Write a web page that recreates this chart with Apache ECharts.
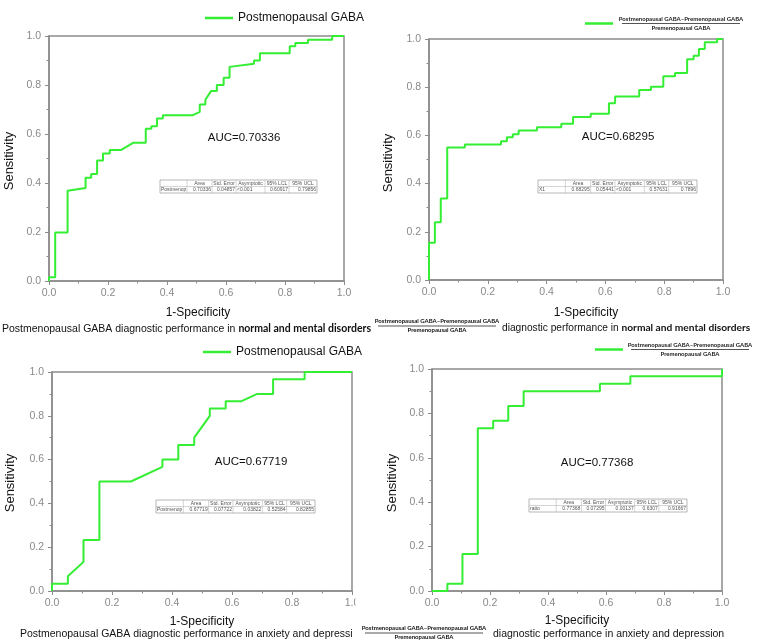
<!DOCTYPE html>
<html><head><meta charset="utf-8">
<script src="https://cdn.jsdelivr.net/npm/echarts@6/dist/echarts.min.js"></script>
<style>html,body{margin:0;padding:0;background:#fff}#c{width:758px;height:641px}</style>
</head><body><div id="c"></div>
<script>
// ---- data ----
const seriesName1 = 'Postmenopausal GABA';
const fracNum = 'Postmenopausal GABA\u2013Premenopausal GABA';
const fracDen = 'Premenopausal GABA';
const axisTicks = [0, 0.2, 0.4, 0.6, 0.8, 1.0];

const roc1X = [0,0,0.021,0.021,0.063,0.063,0.124,0.124,0.143,0.143,0.163,0.163,0.183,0.183,0.206,0.206,0.245,0.285,0.328,0.328,0.347,0.347,0.366,0.366,0.386,0.386,0.488,0.511,0.511,0.530,0.530,0.550,0.569,0.569,0.592,0.592,0.612,0.612,0.695,0.695,0.715,0.715,0.816,0.816,0.835,0.835,0.878,0.878,0.960,0.960,1.0];
const roc1Y = [0,0.015,0.015,0.198,0.198,0.368,0.380,0.421,0.421,0.437,0.437,0.492,0.492,0.520,0.520,0.535,0.535,0.564,0.564,0.621,0.621,0.632,0.632,0.663,0.663,0.677,0.677,0.690,0.720,0.720,0.740,0.776,0.776,0.800,0.800,0.830,0.830,0.874,0.887,0.900,0.900,0.930,0.930,0.958,0.958,0.971,0.971,0.985,0.985,1.0,1.0];

const roc2X = [0,0,0.020,0.020,0.040,0.040,0.062,0.062,0.122,0.122,0.245,0.245,0.265,0.265,0.285,0.285,0.305,0.305,0.367,0.367,0.450,0.450,0.490,0.490,0.550,0.550,0.612,0.612,0.633,0.633,0.715,0.715,0.755,0.755,0.797,0.797,0.837,0.837,0.878,0.878,0.900,0.900,0.918,0.918,0.938,0.938,0.980,0.980,1.0];
const roc2Y = [0,0.155,0.155,0.240,0.240,0.338,0.338,0.550,0.550,0.562,0.562,0.576,0.576,0.592,0.592,0.605,0.605,0.620,0.620,0.634,0.634,0.648,0.648,0.676,0.676,0.690,0.690,0.733,0.733,0.761,0.761,0.788,0.788,0.802,0.802,0.845,0.845,0.859,0.859,0.916,0.916,0.930,0.930,0.958,0.958,0.986,0.986,1.0,1.0];

const roc3X = [0,0,0.053,0.053,0.105,0.105,0.158,0.158,0.263,0.368,0.368,0.421,0.421,0.474,0.474,0.526,0.526,0.579,0.579,0.632,0.684,0.737,0.737,0.842,0.842,1.0];
const roc3Y = [0,0.033,0.033,0.067,0.133,0.233,0.233,0.500,0.500,0.567,0.600,0.600,0.667,0.667,0.700,0.800,0.833,0.833,0.867,0.867,0.900,0.900,0.967,0.967,1.0,1.0];

const roc4X = [0,0.053,0.053,0.105,0.105,0.158,0.158,0.211,0.211,0.263,0.263,0.316,0.316,0.579,0.579,0.684,0.684,1.0,1.0];
const roc4Y = [0,0,0.033,0.033,0.167,0.167,0.733,0.733,0.767,0.767,0.833,0.833,0.900,0.900,0.933,0.933,0.967,0.967,1.0];

const aucLabels = ['AUC=0.70336', 'AUC=0.68295', 'AUC=0.67719', 'AUC=0.77368'];
const tableHeader = ['', 'Area', 'Std. Error', 'Asymptotic', '95% LCL', '95% UCL'];
const tableRow1 = ['Postmenop', '0.70336', '0.04857', '<0.001', '0.60917', '0.79856'];
const tableRow2 = ['X1', '0.68295', '0.05441', '<0.001', '0.57631', '0.7896'];
const tableRow3 = ['Postmenop', '0.67719', '0.07722', '0.03822', '0.52584', '0.82855'];
const tableRow4 = ['ratio', '0.77368', '0.07295', '0.00137', '0.6307', '0.91667'];
const xAxisName = '1-Specificity';
const yAxisName = 'Sensitivity';
const capMain = 'Postmenopausal GABA diagnostic performance in ';
const capShort = 'diagnostic performance in ';
const capBold1 = 'normal and mental disorders';
const capTail2 = 'anxiety and depressi';
const capTail4 = 'anxiety and depression';

// ---- layout ----
const GREEN = '#33ee33';
const GREY = '#8c8c8c';
const FONT = '"Liberation Sans", Arial, sans-serif';
const grids = [
  {left: 49, top: 36, width: 295, height: 245},
  {left: 429, top: 39, width: 294, height: 241},
  {left: 52, top: 372, width: 300, height: 219},
  {left: 432, top: 369, width: 290, height: 222}
];
const zip = (xs, ys) => xs.map((x, i) => [x, ys[i]]);
const curves = [zip(roc1X, roc1Y), zip(roc2X, roc2Y), zip(roc3X, roc3Y), zip(roc4X, roc4Y)];
const names = [seriesName1, 'X1', seriesName1 + ' ', 'ratio'];

function mkAxis(i, isX) {
  return {
    type: 'value', gridIndex: i, min: axisTicks[0], max: axisTicks[axisTicks.length - 1], interval: 0.2,
    axisLine: {show: true, lineStyle: {color: GREY, width: 1.5}},
    axisTick: {show: true, inside: false, length: 4, lineStyle: {color: GREY, width: 1}},
    minorTick: {show: true, splitNumber: 2, length: 2.5, lineStyle: {color: GREY, width: 1}},
    splitLine: {show: false}, minorSplitLine: {show: false},
    axisLabel: {show: true, color: '#8a8a8a', fontSize: 10.5, fontFamily: FONT, margin: isX ? 7 : 8,
      showMinLabel: true, showMaxLabel: true, formatter: v => v.toFixed(1)}
  };
}

const fracRich = {
  n: {fontSize: 6, fontWeight: 'bold', fontFamily: 'Lato, sans-serif', color: '#222', lineHeight: 7, width: 118, align: 'center'},
  b: {fontSize: 1, lineHeight: 2, height: 0.8, width: 118, backgroundColor: '#555'},
  d: {fontSize: 6, fontWeight: 'bold', fontFamily: 'Lato, sans-serif', color: '#222', lineHeight: 7, width: 118, align: 'center'}
};
const fracText = '{n|' + fracNum + '}\n{b| }\n{d|' + fracDen + '}';

const graphics = [];
function txt(x, y, text, size, opts) {
  opts = opts || {};
  graphics.push({type: 'text', x: x, y: y, rotation: opts.rot || 0, z: 100,
    style: {text: text, fill: opts.color || '#111', fontSize: size, fontFamily: opts.family || FONT,
      fontWeight: opts.weight || 'normal', align: opts.align || 'center', verticalAlign: 'middle', rich: opts.rich}});
}
function table(x, y, w, h, hdr, row) {
  const cw = [27, 25, 24, 29, 24, 28];
  const tot = cw.reduce((a, b) => a + b, 0);
  graphics.push({type: 'rect', shape: {x: x, y: y, width: w, height: h}, z: 90,
    style: {fill: '#fff', stroke: '#999', lineWidth: 0.7}});
  graphics.push({type: 'line', shape: {x1: x, y1: y + h / 2, x2: x + w, y2: y + h / 2}, z: 91,
    style: {stroke: '#aaa', lineWidth: 0.5}});
  let cx = x;
  for (let c = 0; c < cw.length; c++) {
    const ww = cw[c] / tot * w;
    if (c > 0) graphics.push({type: 'line', shape: {x1: cx, y1: y, x2: cx, y2: y + h}, z: 91,
      style: {stroke: '#aaa', lineWidth: 0.5}});
    if (hdr[c]) txt(cx + ww / 2, y + h / 4, hdr[c], 5, {color: '#555'});
    const v = row[c];
    if (c === 0 || v[0] === '<') txt(cx + 1, y + 3 * h / 4, v, 5, {color: '#555', align: 'left'});
    else txt(cx + ww - 1, y + 3 * h / 4, v, 5, {color: '#555', align: 'right'});
    cx += ww;
  }
}

// axis names
txt(9, 161, yAxisName, 13, {rot: Math.PI / 2});
txt(388, 163, yAxisName, 13, {rot: Math.PI / 2});
txt(10, 483, yAxisName, 13, {rot: Math.PI / 2});
txt(392, 483, yAxisName, 13, {rot: Math.PI / 2});
txt(198, 313, xAxisName, 12);
txt(586, 313, xAxisName, 12);
txt(202, 622, xAxisName, 12);
txt(577, 621, xAxisName, 12);
// AUC
txt(244, 138, aucLabels[0], 11.5);
txt(618, 137, aucLabels[1], 11.5);
txt(251, 462, aucLabels[2], 11.5);
txt(597, 463, aucLabels[3], 11.5);
// tables
table(160, 180, 157, 13, tableHeader, tableRow1);
table(538, 180, 159, 13, tableHeader, tableRow2);
table(156, 500, 159, 13, tableHeader, tableRow3);
table(529, 499, 158, 13, tableHeader, tableRow4);
// captions
const capRich = {
  r: {fontSize: 10.5, fontFamily: FONT, color: '#111'},
  b: {fontSize: 10.5, fontFamily: 'Lato, sans-serif', fontWeight: 'bold', color: '#111'}
};
const capRich2 = {
  r: {fontSize: 10.2, fontFamily: FONT, color: '#111'},
  b: {fontSize: 10.2, fontFamily: 'Lato, sans-serif', fontWeight: 'bold', color: '#111'}
};
txt(2, 329, '{r|' + capMain + '}{b|' + capBold1 + '}', 10.5, {align: 'left', rich: capRich});
txt(437, 326, fracText, 6, {rich: fracRich});
txt(502, 328, '{r|' + capShort + '}{b|' + capBold1 + '}', 10.2, {align: 'left', rich: capRich2});
txt(20, 634, capMain + capTail2, 10.5, {align: 'left'});
txt(424, 633, fracText, 6, {rich: fracRich});
txt(493, 634, capShort + capTail4, 10.5, {align: 'left'});
// cropped tick label edge of lower-left panel
graphics.push({type: 'rect', shape: {x: 355.5, y: 596, width: 12, height: 16}, z: 120, style: {fill: '#fff'}});

const legendBase = {
  orient: 'horizontal', icon: 'rect', itemWidth: 28, itemHeight: 2.5, selectedMode: false,
  textStyle: {fontSize: 12, fontFamily: FONT, color: '#111'}
};
const legends = [
  Object.assign({}, legendBase, {left: 200, top: 7, data: [names[0]]}),
  Object.assign({}, legendBase, {left: 580, top: 11, data: [names[1]],
    formatter: () => fracText, textStyle: {padding: [0, 0, 0, 4], rich: fracRich}}),
  Object.assign({}, legendBase, {left: 198, top: 341, data: [names[2]]}),
  Object.assign({}, legendBase, {left: 590, top: 337, data: [names[3]],
    formatter: () => fracText, textStyle: {padding: [0, 0, 0, 3], rich: fracRich}})
];

const option = {
  backgroundColor: '#fff',
  animation: false,
  grid: grids.map(g => Object.assign({show: true, borderColor: GREY, borderWidth: 1.5, backgroundColor: 'transparent'}, g)),
  xAxis: grids.map((g, i) => mkAxis(i, true)),
  yAxis: grids.map((g, i) => mkAxis(i, false)),
  legend: legends,
  series: curves.map((d, i) => ({
    type: 'line', name: names[i], xAxisIndex: i, yAxisIndex: i, data: d,
    showSymbol: false, symbol: 'none', clip: false,
    lineStyle: {color: GREEN, width: 2}, itemStyle: {color: GREEN}
  })),
  graphic: graphics
};
const chart = echarts.init(document.getElementById('c'), null, {renderer: 'canvas'});
chart.setOption(option);
</script>
</body></html>
